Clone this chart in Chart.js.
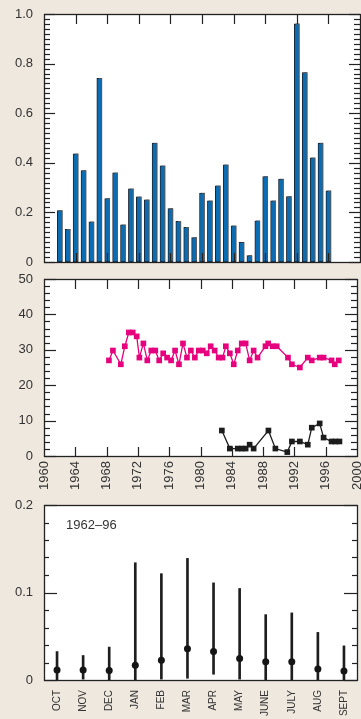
<!DOCTYPE html>
<html><head><meta charset="utf-8">
<script src="https://cdn.jsdelivr.net/npm/chart.js@4/dist/chart.umd.min.js"></script>
<style>
html,body{margin:0;padding:0;background:#efe8df;width:361px;height:719px;overflow:hidden;position:relative}
canvas{position:absolute;left:0;display:block}
</style></head><body>
<canvas id="c1" width="361" height="270" style="top:0"></canvas>
<canvas id="c2" width="361" height="230" style="top:270px"></canvas>
<canvas id="c3" width="361" height="225" style="top:494px"></canvas>
<script>
// ---- Data ----
const barYears = [1962,1963,1964,1965,1966,1967,1968,1969,1970,1971,1972,1973,1974,1975,1976,1977,1978,1979,1980,1981,1982,1983,1984,1985,1986,1987,1988,1989,1990,1991,1992,1993,1994,1995,1996];
const barValues = [0.207,0.132,0.436,0.369,0.162,0.741,0.256,0.36,0.15,0.295,0.263,0.251,0.48,0.388,0.215,0.164,0.14,0.098,0.278,0.247,0.307,0.392,0.146,0.079,0.026,0.166,0.344,0.247,0.334,0.264,0.96,0.764,0.42,0.48,0.287];

const pinkYears = [1968.30,1968.81,1969.82,1970.33,1970.84,1971.34,1971.85,1972.19,1972.70,1973.20,1973.71,1974.22,1974.72,1975.23,1975.73,1976.24,1976.75,1977.25,1977.76,1978.27,1978.77,1979.28,1979.78,1980.29,1980.80,1981.30,1981.81,1982.32,1982.82,1983.24,1983.75,1984.25,1984.76,1985.27,1985.77,1986.28,1986.79,1987.29,1988.30,1988.65,1989.23,1989.74,1991.18,1991.68,1992.70,1993.71,1994.22,1995.23,1995.73,1996.75,1997.16,1997.67];
const pinkValues = [27,29.8,25.9,31,34.9,34.9,33.8,27.8,31.8,27,29.8,29.8,27,29,27.8,27,29.8,25.9,31.8,27.8,29.8,27.8,29.8,29.8,29,31,29.8,27.8,27.8,31,29,25.9,29.8,31.8,31.8,27,29.8,27.8,31,31.8,31,31,27.8,25.9,25,27.8,27,27.8,27.8,27,25.9,27];

const blackYears = [1982.73,1983.75,1984.76,1985.27,1985.77,1986.28,1986.79,1988.68,1989.57,1991.09,1991.68,1992.70,1993.71,1994.22,1995.23,1995.73,1996.75,1997.25,1997.76];
const blackValues = [7.2,2.1,2.1,2.1,2.1,3.2,2.1,7.2,2.1,1.1,4.1,4.1,3.2,8.0,9.2,5.2,4.1,4.1,4.1];

const months = ['OCT','NOV','DEC','JAN','FEB','MAR','APR','MAY','JUNE','JULY','AUG','SEPT'];
const monthMeans = [0.0115,0.0115,0.011,0.017,0.0226,0.0356,0.0325,0.0245,0.021,0.021,0.0126,0.0103];
const monthLows  = [0.0,0.001,0.0,0.0,0.001,0.002,0.0066,0.001,0.0,0.0,0.0,0.0];
const monthHighs = [0.0325,0.028,0.0376,0.134,0.1215,0.139,0.111,0.1046,0.0747,0.0767,0.0544,0.039];
const periodLabel = '1962–96';

// ---- Styling helpers ----
const FONT = '"Liberation Sans", Arial, Helvetica, sans-serif';
const TXT = '#333333';
const INK = '#222222';

const framePlugin = {
  id: 'frame',
  beforeDraw(chart) {
    const {ctx, chartArea: a} = chart;
    ctx.save();
    ctx.fillStyle = '#ffffff';
    ctx.fillRect(a.left, a.top, a.right - a.left, a.bottom - a.top);
    ctx.restore();
  },
  afterDatasetsDraw(chart, args, o) {
    const {ctx, chartArea: a, scales} = chart;
    ctx.save();
    ctx.strokeStyle = INK;
    ctx.lineWidth = 1.2;
    const seg = (x1, y1, x2, y2) => { ctx.beginPath(); ctx.moveTo(x1, y1); ctx.lineTo(x2, y2); ctx.stroke(); };
    const y = scales.y;
    const n = Math.round((y.max - y.min) / o.yMinor);
    for (let i = 0; i <= n; i++) {
      const v = y.min + i * o.yMinor;
      const p = Math.round(y.getPixelForValue(v)) + 0.5;
      const r = v / o.yMajor;
      const major = Math.abs(r - Math.round(r)) < 1e-6;
      const L = major ? o.majorLen : o.minorLen;
      seg(a.left, p, a.left + L, p);
      seg(a.right, p, a.right - L, p);
    }
    if (o.xStep) {
      const x = scales.x;
      for (let v = x.min + o.xStep; v < x.max - 1e-6; v += o.xStep) {
        const p = Math.round(x.getPixelForValue(v)) + 0.5;
        seg(p, a.top, p, a.top + o.xTopLen);
        seg(p, a.bottom, p, a.bottom - o.xBotLen);
      }
    }
    ctx.lineWidth = 1.3;
    ctx.strokeRect(Math.round(a.left) + 0.5, Math.round(a.top) + 0.5, Math.round(a.right - a.left), Math.round(a.bottom - a.top));
    if (o.text) {
      ctx.fillStyle = TXT;
      ctx.font = '13px ' + FONT;
      ctx.textBaseline = 'middle';
      ctx.textAlign = 'left';
      ctx.fillText(o.text, a.left + 22, a.top + 20);
    }
    ctx.restore();
  }
};

const shadowPlugin = {
  id: 'barShadow',
  beforeDatasetsDraw(chart) {
    const ctx = chart.ctx;
    ctx.save();
    ctx.shadowColor = 'rgba(110,110,110,0.75)';
    ctx.shadowOffsetX = 1.5;
    ctx.shadowOffsetY = -0.5;
    ctx.shadowBlur = 0.5;
  },
  afterDatasetsDraw(chart) { chart.ctx.restore(); }
};

function yAxis(min, max, step, cb) {
  return {
    type: 'linear', min, max,
    grid: {display: false, drawTicks: false}, border: {display: false},
    ticks: {stepSize: step, padding: 11, color: TXT, font: {family: FONT, size: 13}, callback: cb},
    afterFit(s) { s.width = 44; s.paddingTop = 0; s.paddingBottom = 0; }
  };
}
const decCb = v => (Math.abs(v) < 1e-9 ? '0' : v.toFixed(1));

// ---- Chart 1: bars ----
new Chart(document.getElementById('c1'), {
  type: 'bar',
  data: {
    datasets: [{
      data: barYears.map((yr, i) => ({x: yr, y: barValues[i]})),
      backgroundColor: '#0a6db3',
      borderColor: '#1a2633',
      borderWidth: 1,
      borderSkipped: false,
      barThickness: 5
    }]
  },
  options: {
    responsive: false, animation: false, devicePixelRatio: 1,
    layout: {padding: {top: 14, bottom: 8, left: 0, right: 1}},
    plugins: {legend: {display: false}, tooltip: {enabled: false},
      frame: {yMinor: 0.02, yMajor: 0.2, minorLen: 6, majorLen: 11, xStep: 4, xTopLen: 10, xBotLen: 9}},
    scales: {
      x: {type: 'linear', min: 1960, max: 2000, offset: false, display: false, grid: {offset: false}},
      y: yAxis(0, 1, 0.2, decCb)
    }
  },
  plugins: [shadowPlugin, framePlugin]
});

// ---- Chart 2: lines ----
new Chart(document.getElementById('c2'), {
  type: 'line',
  data: {
    datasets: [
      {data: pinkYears.map((yr, i) => ({x: yr, y: pinkValues[i]})),
       borderColor: '#e6007e', backgroundColor: '#e6007e', borderWidth: 1.3,
       pointStyle: 'rect', pointRadius: 4, pointBorderWidth: 0, pointBackgroundColor: '#e6007e', tension: 0},
      {data: blackYears.map((yr, i) => ({x: yr, y: blackValues[i]})),
       borderColor: '#1c1c1c', backgroundColor: '#1c1c1c', borderWidth: 1.3,
       pointStyle: 'rect', pointRadius: 4, pointBorderWidth: 0, pointBackgroundColor: '#1c1c1c', tension: 0}
    ]
  },
  options: {
    responsive: false, animation: false, devicePixelRatio: 1,
    layout: {padding: {top: 9, bottom: 0, left: 0, right: 1}},
    plugins: {legend: {display: false}, tooltip: {enabled: false},
      frame: {yMinor: 2, yMajor: 10, minorLen: 6, majorLen: 12, xStep: 4, xTopLen: 10, xBotLen: 9}},
    scales: {
      x: {type: 'linear', min: 1960, max: 2000,
        grid: {display: false, drawTicks: false}, border: {display: false},
        ticks: {stepSize: 4, autoSkip: false, minRotation: 90, maxRotation: 90, padding: 5,
          color: TXT, font: {family: FONT, size: 13}, callback: v => String(v)},
        afterFit(s) { s.height = 44; s.paddingLeft = 0; s.paddingRight = 0; }},
      y: yAxis(0, 50, 10, v => String(v))
    }
  },
  plugins: [framePlugin]
});

// ---- Chart 3: monthly ranges ----
new Chart(document.getElementById('c3'), {
  type: 'bar',
  data: {
    labels: months,
    datasets: [
      {type: 'line', data: monthMeans, showLine: false, order: 0,
       pointRadius: 3.5, pointBorderWidth: 0, pointBackgroundColor: '#151515', borderColor: '#151515'},
      {type: 'bar', data: monthLows.map((l, i) => [l, monthHighs[i]]), order: 1,
       backgroundColor: '#1e1e1e', borderWidth: 0, barThickness: 2}
    ]
  },
  options: {
    responsive: false, animation: false, devicePixelRatio: 1,
    layout: {padding: {top: 11, bottom: 0, left: 0, right: 2}},
    plugins: {legend: {display: false}, tooltip: {enabled: false},
      frame: {yMinor: 0.02, yMajor: 0.1, minorLen: 5, majorLen: 13, text: periodLabel}},
    scales: {
      x: {type: 'category', offset: true,
        grid: {display: false, drawTicks: false}, border: {display: false},
        ticks: {autoSkip: false, minRotation: 90, maxRotation: 90, padding: 10,
          color: TXT, font: {family: FONT, size: 10}},
        afterFit(s) { s.height = 39; s.paddingLeft = 0; s.paddingRight = 0; }},
      y: yAxis(0, 0.2, 0.1, decCb)
    }
  },
  plugins: [framePlugin]
});
</script>
</body></html>
